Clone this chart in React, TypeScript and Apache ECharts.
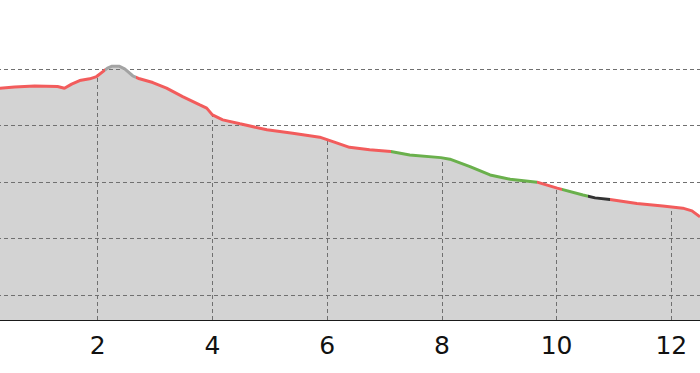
import React, { useEffect, useRef } from "react";
import * as echarts from "echarts";

// Distance (km) along the route
const distanceKm = [
  0, 0.29, 0.55, 0.9, 1.3, 1.42, 1.545, 1.685, 1.86, 1.98, 2.09, 2.17, 2.24, 2.38,
  2.47, 2.61, 2.73, 2.96, 3.2, 3.48, 3.78, 3.9, 4.0, 4.18, 4.48, 4.95, 5.4, 5.87,
  6.1, 6.39, 6.74, 7.11, 7.44, 7.98, 8.14, 8.49, 8.84, 9.19, 9.66, 10.01, 10.46,
  10.67, 10.93, 11.4, 11.85, 12.2, 12.36, 12.5,
];
// Elevation (m)
const elevationM = [
  283, 283, 284, 285, 284.5, 283, 286.6, 289.8, 291.3, 293.3, 297.7, 300.8, 302.3,
  302.3, 300.1, 294, 291.3, 288, 283, 275.6, 268.3, 265.4, 259.4, 255, 251.5, 246.2,
  243.2, 239.7, 235.8, 230.7, 228.5, 227, 224, 221.6, 220.2, 213.7, 206.3, 202.5,
  199.9, 194.6, 188.6, 186, 184.6, 181.1, 178.9, 176.9, 174.5, 169.2,
];
// Segment colour breaks (km) and the colours between them
const segmentBreaksKm = [2.12, 2.67, 7.12, 9.65, 10.09, 10.55, 10.93];
const segmentColors = [
  "#f25c5c", "#a3a3a3", "#f25c5c", "#6ab04c", "#f25c5c", "#6ab04c", "#333333", "#f25c5c",
];
// Axis ticks
const xTicksKm = [2, 4, 6, 8, 10, 12];
const yGridM = [100, 150, 200, 250, 300];

const X_MIN = 0;
const X_MAX = 12.5;
const Y_MIN = 78;
const Y_MAX = 361;

function elevationAt(x: number): number {
  for (let i = 0; i < distanceKm.length - 1; i++) {
    const a = distanceKm[i];
    const b = distanceKm[i + 1];
    if (x >= a && x <= b) {
      const t = (x - a) / (b - a);
      return elevationM[i] + t * (elevationM[i + 1] - elevationM[i]);
    }
  }
  return elevationM[elevationM.length - 1];
}

export default function App() {
  const ref = useRef<HTMLDivElement>(null);

  useEffect(() => {
    document.body.style.margin = "0";
    document.body.style.overflow = "hidden";
    if (!ref.current) return;
    const chart = echarts.init(ref.current, undefined, { renderer: "svg" });

    const data = distanceKm.map((d, i) => [d, elevationM[i]]);

    const pieces = segmentColors.map((color, i) => {
      const p: any = { color };
      if (i > 0) p.gte = segmentBreaksKm[i - 1];
      if (i < segmentBreaksKm.length) p.lt = segmentBreaksKm[i];
      return p;
    });

    const gridStyle = { color: "#707070", width: 1, type: [4, 3] as number[] };

    const markData: any[] = [
      ...yGridM.map((v) => ({ yAxis: v })),
      ...xTicksKm.map((x) => [
        { coord: [x, Y_MIN] },
        { coord: [x, elevationAt(x)] },
      ]),
    ];

    chart.setOption({
      animation: false,
      grid: { left: 0, right: 0, top: 0, bottom: 53, containLabel: false },
      xAxis: {
        type: "value",
        min: X_MIN,
        max: X_MAX,
        interval: 2,
        axisLine: { show: true, lineStyle: { color: "#1a1a1a", width: 2 } },
        axisTick: { show: false },
        splitLine: { show: false },
        axisLabel: {
          showMinLabel: false,
          showMaxLabel: false,
          color: "#111",
          fontSize: 25,
          fontFamily: "DejaVu Sans",
          margin: 13,
        },
      },
      yAxis: {
        type: "value",
        min: Y_MIN,
        max: Y_MAX,
        show: false,
        splitLine: { show: false },
      },
      visualMap: {
        type: "piecewise",
        show: false,
        dimension: 0,
        seriesIndex: 1,
        pieces,
      },
      series: [
        {
          type: "line",
          data,
          symbol: "none",
          lineStyle: { width: 0 },
          itemStyle: { color: "#d3d3d3" },
          areaStyle: { color: "#d3d3d3", opacity: 1 },
          silent: true,
          z: 1,
          markLine: {
            silent: true,
            symbol: ["none", "none"],
            label: { show: false },
            lineStyle: gridStyle,
            emphasis: { disabled: true },
            data: markData,
          },
        },
        {
          type: "line",
          data,
          symbol: "none",
          lineStyle: { width: 3 },
          silent: true,
          z: 5,
        },
      ],
    });

    return () => chart.dispose();
  }, []);

  return (
    <div
      ref={ref}
      style={{ position: "absolute", left: -17, top: 0, width: 717, height: 373 }}
    />
  );
}
